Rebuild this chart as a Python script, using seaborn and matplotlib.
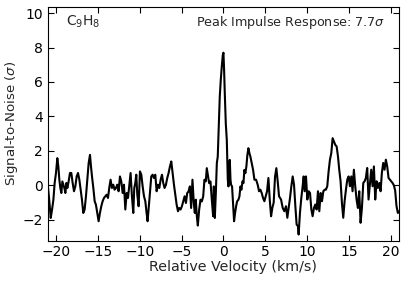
import matplotlib
matplotlib.use("Agg")
import matplotlib.pyplot as plt
import seaborn as sns
import pandas as pd

velocity = [
    -21.00, -20.83, -20.63, -20.47, -20.31, -20.16, -20.00, -19.84, -19.72, -19.60,
    -19.48, -19.36, -19.24, -19.12, -19.00, -18.88, -18.76, -18.64, -18.49, -18.33,
    -18.17, -18.01, -17.85, -17.69, -17.53, -17.37, -17.21, -17.05, -16.90, -16.74,
    -16.58, -16.42, -16.26, -16.10, -15.94, -15.82, -15.70, -15.54, -15.38, -15.23,
    -15.07, -14.91, -14.75, -14.59, -14.43, -14.27, -14.11, -13.95, -13.79, -13.64,
    -13.48, -13.32, -13.16, -13.00,
    -12.84, -12.68, -12.52, -12.36, -12.20, -12.04, -11.88, -11.72, -11.56, -11.40,
    -11.24, -11.09, -10.93, -10.77, -10.65, -10.53, -10.41, -10.29, -10.13, -9.97,
    -9.81, -9.65, -9.49, -9.33, -9.18, -9.06, -8.94, -8.78, -8.62, -8.46,
    -8.30, -8.14, -7.98, -7.82, -7.66, -7.50, -7.34, -7.19, -7.03, -6.87,
    -6.71, -6.55, -6.39, -6.23, -6.07, -5.91, -5.75, -5.59, -5.43, -5.28,
    -5.12, -4.96, -4.80, -4.64, -4.48,
    -4.33, -4.17, -4.01, -3.86, -3.70, -3.54, -3.42, -3.30, -3.18, -3.06,
    -2.90, -2.74, -2.58, -2.42, -2.27, -2.11, -1.99, -1.87, -1.71, -1.55,
    -1.39, -1.23, -1.15, -1.03, -0.91, -0.79, -0.68, -0.56, -0.44, -0.32,
    -0.20, -0.08, 0.00, 0.08, 0.16, 0.28, 0.40, 0.52, 0.60, 0.68,
    0.76, 0.84, 0.91, 1.03, 1.15, 1.27, 1.39, 1.51, 1.63, 1.79,
    1.91, 2.03, 2.15, 2.27, 2.39, 2.50, 2.62, 2.74, 2.86, 2.98,
    3.10, 3.22, 3.38, 3.54, 3.70,
    3.90, 4.09, 4.25, 4.41, 4.57, 4.73, 4.89, 5.05, 5.21, 5.37,
    5.53, 5.69, 5.84, 6.00, 6.16, 6.32, 6.48, 6.64,
    6.88, 7.08, 7.27, 7.47, 7.63, 7.79, 7.95, 8.11, 8.27, 8.43,
    8.59, 8.74, 8.90, 8.98, 9.14, 9.30, 9.46, 9.58, 9.70, 9.86,
    10.02, 10.18, 10.34, 10.50, 10.65, 10.81, 10.97, 11.13, 11.29, 11.45,
    11.61, 11.77, 11.93, 12.09, 12.24, 12.40, 12.56, 12.72, 12.88, 13.04,
    13.20, 13.36, 13.52, 13.68, 13.83, 13.99, 14.15, 14.31, 14.47, 14.63,
    14.79, 14.95, 15.11, 15.27, 15.42, 15.58, 15.74, 15.90, 16.06, 16.22,
    16.38, 16.54, 16.70, 16.86, 17.01, 17.17, 17.33, 17.49, 17.65, 17.81,
    17.97, 18.13, 18.29, 18.45, 18.61, 18.77, 18.92, 19.08, 19.24, 19.40,
    19.56, 19.72, 19.88, 20.04, 20.20, 20.36, 20.51, 20.67, 20.83, 21.00,
]

snr = [
    0.14, -0.73, -1.89, -1.40, -0.83, 0.14, 0.72, 1.58, 1.10, 0.33,
    -0.15, -0.44, 0.23, 0.04, -0.15, -0.44, 0.14, -0.15, 0.23, 0.72,
    0.72, 0.14, -0.34, -0.06, 0.52, 0.72, 0.33, -0.25, -0.83, -1.60,
    -1.40, -0.63, 0.33, 1.29, 1.77, 1.10, 0.52, -0.15, -0.92, -1.12,
    -1.60, -2.08, -1.60, -1.21, -0.92, -0.73, -0.63, -0.54, -0.73, -0.15,
    0.33, -0.15, 0.04, -0.25,
    -0.15, 0.04, -0.34, 0.52, 0.23, -0.44, 0.04, -1.40, -0.44, -0.73,
    0.04, 0.72, -0.63, -1.60, -0.15, 0.14, 0.62, -0.54, -1.21, 0.81,
    0.62, -0.06, -0.63, -0.92, -1.60, -2.08, -1.40, -0.44, 0.52, 0.62,
    0.43, 0.62, -0.34, 0.04, -0.15, 0.33, 0.62, 0.14, -0.15, 0.04,
    0.43, 0.72, 1.10, 1.39, 0.72, 0.04, -0.54, -1.12, -1.50, -1.31,
    -1.40, -1.21, -0.92, -0.63, -1.02,
    -0.45, -0.35, -0.06, -1.31, 0.33, -1.02, -1.60, -0.83, -1.79, -2.33,
    -1.41, -0.83, -0.93, -0.64, 0.33, 0.23, 1.00, 0.61, 0.13, 0.23,
    -0.83, -1.79, -0.06, -1.89, -0.45, 1.29, 1.67, 3.41, 5.14, 6.11,
    6.88, 7.55, 7.70, 6.68, 5.34, 3.60, 2.64, 0.33, -0.06, 1.10,
    1.48, 0.33, 0.04, -0.06, -1.02, -2.08, -1.60, -1.22, -0.93, -0.83,
    -0.64, -0.06, -0.25, 0.23, 0.13, 0.90, 0.71, 1.10, 1.77, 2.16,
    1.87, 1.67, 1.29, 0.90, 0.33,
    0.33, 0.04, -0.34, -0.25, -0.44, -0.73, -0.92, -0.63, -0.34, 0.43,
    -0.83, -1.79, -1.31, -1.00, 0.50, 1.00, 0.23, -0.63,
    -0.82, -1.31, -1.50, -1.21, -1.88, -1.31, -0.73, -0.05, 0.52, 0.04,
    -1.21, -2.27, -2.37, -2.85, -1.59, -0.73, -0.05, 0.52, -0.34, 0.52,
    -0.82, -0.34, -0.44, -1.40, -1.79, -1.31, -1.11, -1.40, -0.34, -1.50,
    -0.44, -0.92, -0.34, -0.25, -0.25, -0.05, 0.81, 1.49, 1.87, 2.74,
    2.55, 2.35, 2.26, 1.68, 0.91, 0.24, -1.02, -1.88, -0.92, -0.25,
    0.33, 0.52, -0.05, 0.52, -0.34, 0.91, -0.05, -0.82, -1.31, -0.34,
    -2.17, -1.31, 0.14, 0.24, 0.43, 1.01, -0.82, 0.04, 0.91, -0.05,
    1.10, -0.82, 0.24, -0.15, 0.14, -0.34, 0.72, 1.30, 0.91, 1.49,
    1.10, 0.43, 0.33, 0.24, 0.14, 0.00, -0.30, -1.20, -1.60, -1.50,
]

xticks = [-20, -15, -10, -5, 0, 5, 10, 15, 20]
yticks = [-2, 0, 2, 4, 6, 8, 10]
species_label = r"C$_9$H$_8$"
peak_label = r"Peak Impulse Response: 7.7$\sigma$"

df = pd.DataFrame({"velocity": velocity, "snr": snr})

sns.set_style("ticks")
plt.rcParams["font.family"] = ["DejaVu Sans"]

fig = plt.figure(figsize=(4.07, 2.81), dpi=100)
ax = fig.add_axes([0.117, 0.144, 0.864, 0.831])
sns.lineplot(data=df, x="velocity", y="snr", color="black", linewidth=1.5,
             estimator=None, sort=False, ax=ax)

ax.set_xlim(-21, 21)
ax.set_ylim(-3.2, 10.35)
ax.set_xticks(xticks)
ax.set_yticks(yticks)
ax.tick_params(direction="in", top=True, right=True, length=4, width=0.8,
               labelsize=10, colors="black")
for s in ax.spines.values():
    s.set_visible(True)
    s.set_linewidth(0.8)
    s.set_color("black")
ax.set_xlabel("Relative Velocity (km/s)", fontsize=10.3, labelpad=1)
ax.xaxis.set_label_coords(0.527, -0.085)
ax.set_ylabel(r"Signal-to-Noise ($\sigma$)", fontsize=9.6, labelpad=2)
ax.text(0.052, 0.935, species_label, transform=ax.transAxes, fontsize=10,
        ha="left", va="center")
ax.text(0.958, 0.935, peak_label, transform=ax.transAxes, fontsize=9.2,
        ha="right", va="center")

fig.savefig("out.png", dpi=100)
